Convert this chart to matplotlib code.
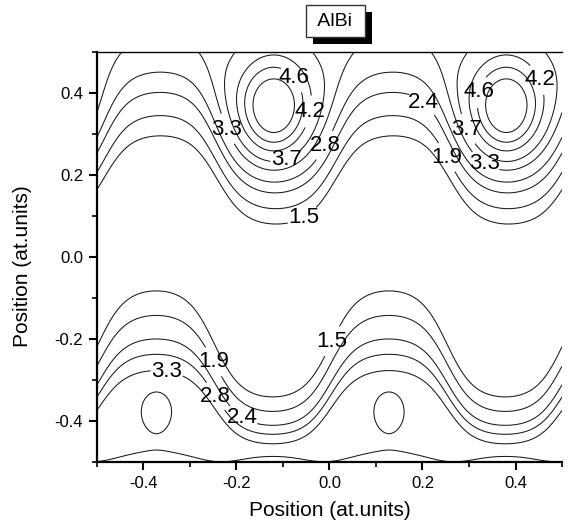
import numpy as np
import matplotlib
matplotlib.use("Agg")
import matplotlib.pyplot as plt
import matplotlib.patheffects as pe
from matplotlib.ticker import MultipleLocator, FormatStrFormatter

plt.rcParams['font.family'] = ['Liberation Sans', 'DejaVu Sans']
plt.rcParams['axes.unicode_minus'] = False

# contour levels (innermost Bi ring is not labelled)
levels = [1.5, 1.9, 2.4, 2.8, 3.3, 3.7, 4.2, 4.6, 5.0]

# Bi row (upper half): x positions, y, extra peak height, widths
bi_x = [-0.62, -0.12, 0.38, 0.88]
bi_y = 0.363
bi_h = 2.15
bi_sx, bi_sy_up, bi_sy_down = 0.06, 0.09, 0.098

# Al row (lower half)
al_x = [-0.872, -0.372, 0.128, 0.628]
al_y = -0.376
al_h = 0.42
al_sx, al_sy = 0.026, 0.038

# charge lying just below the lower edge (small arcs at y = -0.5)
edge1_x = [-0.872, -0.372, 0.128, 0.628]
edge1_y, edge1_h, edge1_s = -0.624, 1.48, 0.073
edge2_x = [-0.622, -0.122, 0.378, 0.878]
edge2_y, edge2_h, edge2_s = -0.698, 1.48, 0.105

# upper background band
top_crest, top_amp, top_k = -0.365, 0.118, 1.2
top_max, top_uc, top_L, top_cap = 3.7, 0.247, 0.094, 3.45
# lower background band
bot_a0, bot_a1, bot_k = 0.06, 0.24, 1.2
bot_d0, bot_lam, bot_cap = 0.284, 0.194, 3.5

# contour labels: level, x, y
label_lev = [4.6, 4.2, 3.3, 3.7, 2.8, 1.5,
             2.4, 4.6, 4.2, 3.7, 1.9, 3.3,
             1.5, 3.3, 1.9, 2.8, 2.4]
label_x = [-0.063, -0.042, -0.210, -0.100, -0.020, -0.063,
           0.220, 0.330, 0.485, 0.317, 0.281, 0.352,
           0.023, -0.349, -0.261, -0.270, -0.190]
label_y = [0.449, 0.354, 0.317, 0.261, 0.278, 0.110,
           0.400, 0.400, 0.451, 0.322, 0.261, 0.261,
           -0.215, -0.276, -0.263, -0.358, -0.395]


def ripple(X, x0, k):
    c = np.cos(2 * np.pi * (X - x0) / 0.5)
    return np.tanh(k * c) / np.tanh(k)


def softmin(a, cap, k=0.1):
    return -k * np.logaddexp(-a / k, -cap / k)


def bumps(X, Y, xs, y0, h, sx, sy_up, sy_down=None):
    if sy_down is None:
        sy_down = sy_up
    sy = np.where(Y > y0, sy_up, sy_down)
    out = np.zeros_like(X)
    for x0 in xs:
        out += h * np.exp(-((X - x0) ** 2 / (2 * sx ** 2) + (Y - y0) ** 2 / (2 * sy ** 2)))
    return out


x = np.linspace(-0.5, 0.5, 501)
y = np.linspace(-0.5, 0.5, 501)
X, Y = np.meshgrid(x, y)

u = Y - top_amp * ripple(X, top_crest, top_k)
top = softmin(top_max / (1 + np.exp(-(u - top_uc) / top_L)), top_cap)

c = ripple(X, al_x[1], bot_k)
d = (Y + 0.5 - bot_a0 * c) / (1 + bot_a1 * c)
E = 1.5 * np.exp((bot_d0 - d) / bot_lam)
bottom = softmin(E, bot_cap)

F = (top + bottom
     + bumps(X, Y, bi_x, bi_y, bi_h, bi_sx, bi_sy_up, bi_sy_down)
     + bumps(X, Y, al_x, al_y, al_h, al_sx, al_sy)
     + bumps(X, Y, edge1_x, edge1_y, edge1_h, edge1_s, edge1_s)
     + bumps(X, Y, edge2_x, edge2_y, edge2_h, edge2_s, edge2_s))

fig = plt.figure(figsize=(5.7, 5.26), dpi=100)
ax = fig.add_axes([0.170, 0.1217, 0.816, 0.7795])

# one contour set per level, so each label lands on its own level
texts = []
for lv in levels:
    cs = ax.contour(X, Y, F, levels=[lv], colors='#1a1a1a', linewidths=0.75)
    pos = [(lx, ly) for l, lx, ly in zip(label_lev, label_x, label_y) if l == lv]
    if pos:
        texts += list(ax.clabel(cs, manual=pos, inline=True, fmt='%.1f',
                                fontsize=16, inline_spacing=1, colors='black'))
ax.set_xlim(-0.5, 0.5)
ax.set_ylim(-0.5, 0.5)

for t in texts:
    t.set_rotation(0)
    t.set_clip_on(False)

ax.spines['right'].set_visible(False)
ax.spines['top'].set_linewidth(1.0)
ax.spines['left'].set_linewidth(1.6)
ax.spines['bottom'].set_linewidth(1.6)

ax.xaxis.set_major_locator(MultipleLocator(0.2))
ax.xaxis.set_minor_locator(MultipleLocator(0.1))
ax.yaxis.set_major_locator(MultipleLocator(0.2))
ax.yaxis.set_minor_locator(MultipleLocator(0.1))
ax.xaxis.set_major_formatter(FormatStrFormatter('%.1f'))
ax.yaxis.set_major_formatter(FormatStrFormatter('%.1f'))
ax.tick_params(which='both', direction='out', top=False, right=False)
ax.tick_params(which='major', length=6, width=1.5, labelsize=12, pad=4)
ax.tick_params(which='minor', length=3.5, width=1.2)

ax.set_xlabel('Position (at.units)', fontsize=15)
ax.set_ylabel('Position (at.units)', fontsize=15)
ax.xaxis.set_label_coords(0.5, -0.095)
ax.yaxis.set_label_coords(-0.14, 0.478)

t = fig.text(0.588, 0.960, ' AlBi ', ha='center', va='center', fontsize=14,
             bbox=dict(boxstyle='square,pad=0.38', fc='white', ec='#333333', lw=1))
t.get_bbox_patch().set_path_effects([
    pe.SimplePatchShadow(offset=(5, -5), shadow_rgbFace='black', alpha=1),
    pe.Normal()])

fig.savefig('out.png', dpi=100)
